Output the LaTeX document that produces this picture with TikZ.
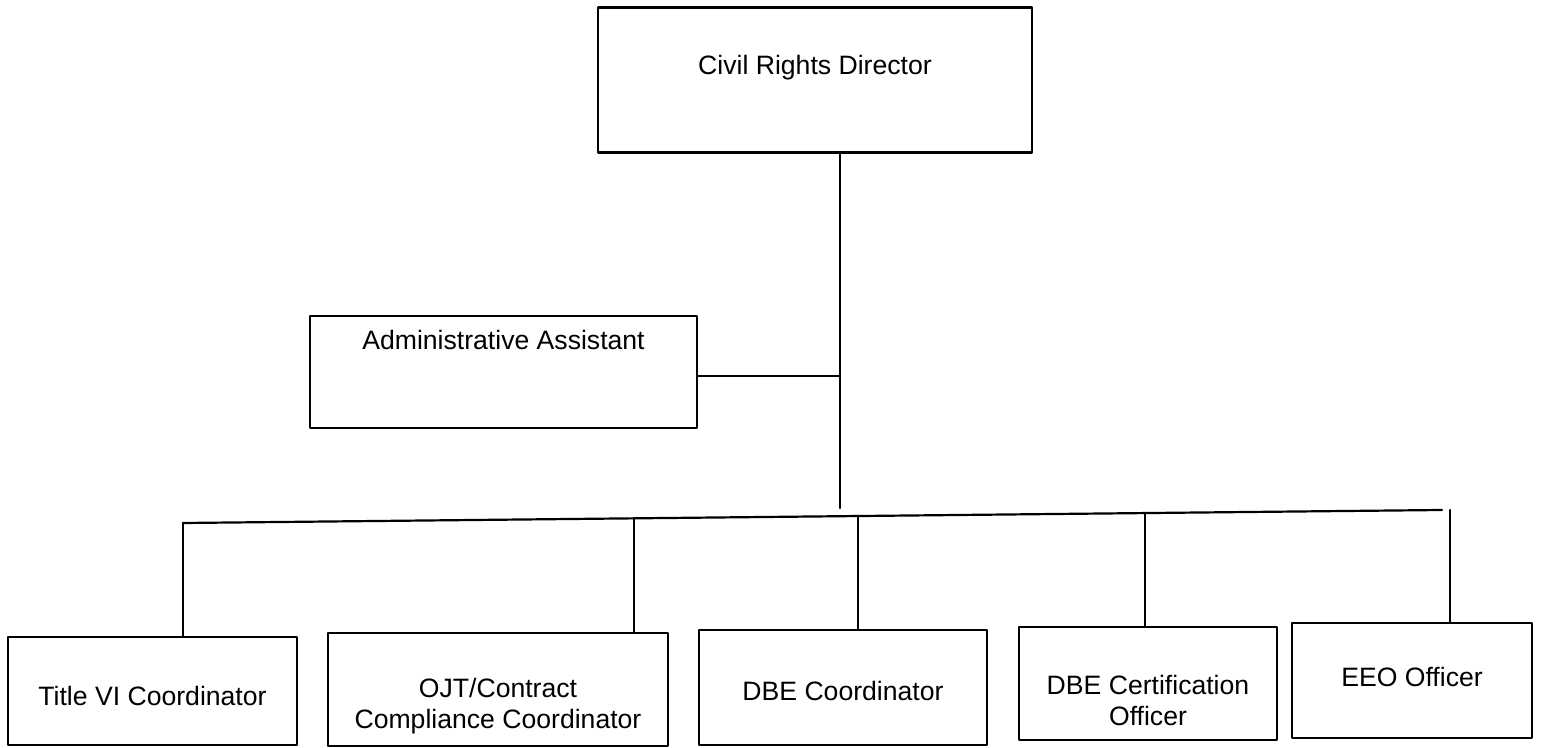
\documentclass[tikz,border=0pt]{standalone}
\usepackage{fontspec}
\setmainfont{Liberation Sans}
\begin{document}
\def\pxu{0.5pt}
\begin{tikzpicture}[x=0.5pt, y=-0.5pt, line join=round, line cap=round,
		orgbox/.style={draw, line width=1.4pt, inner sep=0pt},
		link/.style={line width=1.1pt},
		every label/.style={font=\fontsize{13.3}{15.5}\selectfont, align=center}]
	\useasboundingbox (0,0) rectangle (1543,748);
	% boxes
	\node[orgbox, minimum width=434*\pxu, minimum height=145*\pxu,
		label={[yshift=12*\pxu]center:Civil Rights Director}] (dir) at (815,80) {};
	\node[orgbox, minimum width=387*\pxu, minimum height=112*\pxu,
		label={[yshift=32*\pxu]center:Administrative Assistant}] (admin) at (503.5,372) {};
	\node[orgbox, minimum width=289*\pxu, minimum height=108*\pxu,
		label={[yshift=-5*\pxu]center:Title VI Coordinator}] (title) at (152.5,691) {};
	\node[orgbox, minimum width=340*\pxu, minimum height=113*\pxu,
		label={[yshift=-17*\pxu]center:OJT/Contract\\Compliance Coordinator}] (ojt) at (498,689.5) {};
	\node[orgbox, minimum width=288*\pxu, minimum height=115*\pxu,
		label={[yshift=-3*\pxu]center:DBE Coordinator}] (dbe) at (843,687.5) {};
	\node[orgbox, minimum width=258*\pxu, minimum height=113*\pxu,
		label={[yshift=-17*\pxu]center:DBE Certification\\Officer}] (cert) at (1148,683.5) {};
	\node[orgbox, minimum width=240*\pxu, minimum height=115*\pxu,
		label={[yshift=4*\pxu]center:EEO Officer}] (eeo) at (1412,680.5) {};
	% connector points
	\coordinate (dirfoot) at (840,508);
	\coordinate (busL) at (183,523);
	\coordinate (busR) at (1442,510);
	\coordinate (dropB) at (634,519);
	\coordinate (dropC) at (858,516.5);
	\coordinate (dropD) at (1145,513.5);
	\coordinate (dropE) at (1450,510);
	% lines
	\draw[link] (dir.south -| dirfoot) -- (dirfoot);
	\draw[link] ([yshift=-4*\pxu]admin.east) -- ([yshift=-4*\pxu]admin.east -| dirfoot);
	\draw[link] (busL) -- (busR);
	\draw[link] (busL) -- (title.north -| busL);
	\foreach \d/\b in {dropB/ojt,dropC/dbe,dropD/cert,dropE/eeo}
	{
		\draw[link] (\d) -- (\b.north -| \d);
	}
\end{tikzpicture}
\end{document}
